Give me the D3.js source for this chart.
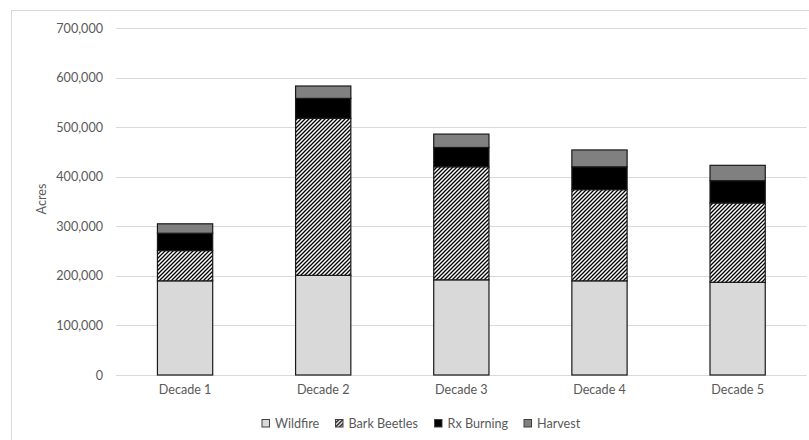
<!DOCTYPE html>
<html>
<head>
<meta charset="utf-8">
<script src="https://cdn.jsdelivr.net/npm/d3@7"></script>
<style>
  html, body { margin: 0; padding: 0; background: #fff; }
  svg { display: block; font-family: Lato, "Open Sans", sans-serif; }
</style>
</head>
<body>
<svg id="chart" width="809" height="440"></svg>
<script>
// Acres affected per decade, by disturbance type
const decades = ["Decade 1", "Decade 2", "Decade 3", "Decade 4", "Decade 5"];
const seriesNames = ["Wildfire", "Bark Beetles", "Rx Burning", "Harvest"];
const wildfire    = [190000, 201000, 192000, 190000, 187000];
const barkBeetles = [61000, 317000, 228000, 184000, 160000];
const rxBurning   = [35000, 40000, 39000, 46000, 45000];
const harvest     = [19000, 25000, 27000, 34000, 31000];
const yTicks = [0, 100000, 200000, 300000, 400000, 500000, 600000, 700000];

const rows = decades.map((d, i) => ({
  decade: d,
  "Wildfire": wildfire[i],
  "Bark Beetles": barkBeetles[i],
  "Rx Burning": rxBurning[i],
  "Harvest": harvest[i]
}));

const svg = d3.select("#chart");
const margin = { left: 116, right: 2.3 };
const W = 809;
const FONT = 12.6;

// chart frame
svg.append("rect")
  .attr("x", 11.5).attr("y", 10.5)
  .attr("width", 820).attr("height", 450)
  .attr("fill", "#fff").attr("stroke", "#d9d9d9").attr("stroke-width", 1);

// hatch pattern for bark beetles
const defs = svg.append("defs");
const pat = defs.append("pattern")
  .attr("id", "hatch").attr("patternUnits", "userSpaceOnUse")
  .attr("width", 4).attr("height", 4);
pat.append("rect").attr("width", 4).attr("height", 4).attr("fill", "#fff");
pat.append("path")
  .attr("d", "M-1,1 L1,-1 M0,4 L4,0 M3,5 L5,3")
  .attr("stroke", "#000").attr("stroke-width", 1.3);

const x = d3.scaleBand()
  .domain(decades)
  .range([margin.left, W - margin.right])
  .paddingInner(0.6).paddingOuter(0.3);

const y = d3.scaleLinear()
  .domain([0, 700000])
  .range([375, 28]);

// gridlines
svg.append("g")
  .selectAll("line")
  .data(yTicks)
  .join("line")
  .attr("x1", margin.left).attr("x2", W - margin.right)
  .attr("y1", d => Math.round(y(d)) + 0.5).attr("y2", d => Math.round(y(d)) + 0.5)
  .attr("stroke", "#d9d9d9").attr("stroke-width", 1);

// y axis labels
const yAxis = d3.axisLeft(y).tickValues(yTicks).tickSize(0).tickPadding(0)
  .tickFormat(d3.format(","));
svg.append("g")
  .attr("transform", `translate(103,0)`)
  .call(yAxis)
  .call(g => g.select(".domain").remove())
  .call(g => g.selectAll("text")
    .attr("fill", "#595959").attr("font-size", FONT)
    .attr("font-family", "Lato, 'Open Sans', sans-serif"));

// x axis labels
const xAxis = d3.axisBottom(x).tickSize(0).tickPadding(0);
svg.append("g")
  .attr("transform", `translate(0,385)`)
  .call(xAxis)
  .call(g => g.select(".domain").remove())
  .call(g => g.selectAll("text")
    .attr("fill", "#595959").attr("font-size", FONT)
    .attr("font-family", "Lato, 'Open Sans', sans-serif"));

// y axis title
svg.append("text")
  .attr("transform", "translate(46,199) rotate(-90)")
  .attr("text-anchor", "middle")
  .attr("fill", "#595959").attr("font-size", FONT)
  .text("Acres");

const fills = {
  "Wildfire": "#d9d9d9",
  "Bark Beetles": "url(#hatch)",
  "Rx Burning": "#000000",
  "Harvest": "#808080"
};

const stacked = d3.stack().keys(seriesNames)(rows);

svg.append("g")
  .selectAll("g")
  .data(stacked)
  .join("g")
  .attr("fill", d => fills[d.key])
  .selectAll("rect")
  .data(d => d)
  .join("rect")
  .attr("x", d => x(d.data.decade))
  .attr("width", x.bandwidth())
  .attr("y", d => y(d[1]))
  .attr("height", d => y(d[0]) - y(d[1]))
  .attr("stroke", "#1a1a1a").attr("stroke-width", 1.2);

// legend
const legendX = [262, 335.5, 434.5, 524];
const legend = svg.append("g").attr("transform", "translate(0,423)");
seriesNames.forEach((name, i) => {
  const g = legend.append("g").attr("transform", `translate(${legendX[i]},0)`);
  g.append("rect")
    .attr("x", 0).attr("y", -3.5).attr("width", 7.5).attr("height", 7.5)
    .attr("fill", fills[name]).attr("stroke", "#404040").attr("stroke-width", 1);
  g.append("text")
    .attr("x", 13).attr("y", 0.5).attr("dy", "0.35em")
    .attr("fill", "#595959").attr("font-size", FONT)
    .text(name);
});
</script>
</body>
</html>
